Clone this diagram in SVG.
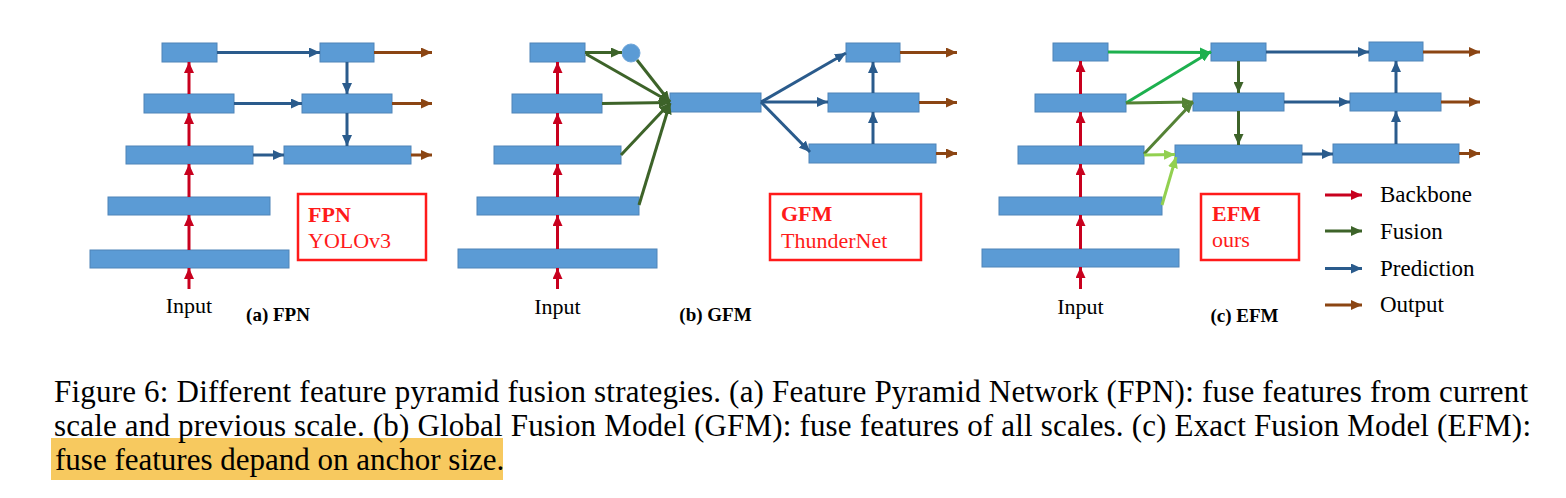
<svg xmlns="http://www.w3.org/2000/svg" width="1566" height="498" viewBox="0 0 1566 498">
<style>
.box{fill:#5B9BD5;stroke:#4F84B8;stroke-width:1}
.c{fill:none;stroke-width:3}
.red{stroke:#C8001E}
.grn{stroke:#3D6329}
.fg{stroke:#548235}
.bg{stroke:#1DB04E}
.lg{stroke:#92D050}
.blu{stroke:#2A5B8C}
.brn{stroke:#8B4513}
.lab{font-family:"Liberation Serif","Times New Roman",serif;font-size:22px;fill:#000}
.leg{font-family:"Liberation Serif","Times New Roman",serif;font-size:23px;fill:#000}
.sub{font-family:"Liberation Serif","Times New Roman",serif;font-size:19px;font-weight:bold;fill:#000}
.rb{fill:none;stroke:#FF1A1A;stroke-width:2.5}
.rt{font-family:"Liberation Serif","Times New Roman",serif;font-size:22px;fill:#FF1A1A}
.cap{font-family:"Liberation Serif","Times New Roman",serif;font-size:31px;fill:#000}
</style>
<defs>
<marker id="mr" markerUnits="userSpaceOnUse" markerWidth="11" markerHeight="10" refX="11" refY="5" orient="auto"><path d="M0,0 L11,5 L0,10 z" fill="#C8001E"/></marker>
<marker id="mg" markerUnits="userSpaceOnUse" markerWidth="11" markerHeight="10" refX="11" refY="5" orient="auto"><path d="M0,0 L11,5 L0,10 z" fill="#3D6329"/></marker>
<marker id="mfg" markerUnits="userSpaceOnUse" markerWidth="11" markerHeight="10" refX="11" refY="5" orient="auto"><path d="M0,0 L11,5 L0,10 z" fill="#548235"/></marker>
<marker id="mbg" markerUnits="userSpaceOnUse" markerWidth="11" markerHeight="10" refX="11" refY="5" orient="auto"><path d="M0,0 L11,5 L0,10 z" fill="#1DB04E"/></marker>
<marker id="mlg" markerUnits="userSpaceOnUse" markerWidth="11" markerHeight="10" refX="11" refY="5" orient="auto"><path d="M0,0 L11,5 L0,10 z" fill="#92D050"/></marker>
<marker id="mb" markerUnits="userSpaceOnUse" markerWidth="11" markerHeight="10" refX="11" refY="5" orient="auto"><path d="M0,0 L11,5 L0,10 z" fill="#2A5B8C"/></marker>
<marker id="mo" markerUnits="userSpaceOnUse" markerWidth="11" markerHeight="10" refX="11" refY="5" orient="auto"><path d="M0,0 L11,5 L0,10 z" fill="#8B4513"/></marker>
</defs>
<rect width="1566" height="498" fill="#FFFFFF"/>

<!-- FPN -->
<g id="fpn-l1"><rect class="box" x="162" y="43" width="55" height="19"/></g>
<g id="fpn-l2"><rect class="box" x="144" y="94" width="90" height="19"/></g>
<g id="fpn-l3"><rect class="box" x="126" y="146" width="127" height="18"/></g>
<g id="fpn-l4"><rect class="box" x="108" y="197" width="162" height="18"/></g>
<g id="fpn-l5"><rect class="box" x="90" y="250" width="199" height="18"/></g>
<g id="fpn-p1"><rect class="box" x="320" y="43" width="54" height="19"/></g>
<g id="fpn-p2"><rect class="box" x="302" y="94" width="90" height="19"/></g>
<g id="fpn-p3"><rect class="box" x="284" y="146" width="127" height="18"/></g>
<g id="fpn-tag"><rect class="rb" x="298" y="194" width="128" height="66"/>
<text class="rt" x="308" y="222" font-weight="bold">FPN</text><text class="rt" x="308" y="248">YOLOv3</text></g>
<g id="fpn-input"><text class="lab" x="189" y="313" text-anchor="middle">Input</text></g>
<g id="fpn-title"><text class="sub" x="278" y="321" text-anchor="middle">(a) FPN</text></g>

<!-- GFM -->
<g id="gfm-l1"><rect class="box" x="530" y="43" width="55" height="19"/></g>
<g id="gfm-l2"><rect class="box" x="512" y="94" width="90" height="19"/></g>
<g id="gfm-l3"><rect class="box" x="494" y="146" width="127" height="18"/></g>
<g id="gfm-l4"><rect class="box" x="477" y="197" width="162" height="18"/></g>
<g id="gfm-l5"><rect class="box" x="458" y="249" width="199" height="19"/></g>
<g id="gfm-pool"><circle cx="631" cy="53" r="9" fill="#5B9BD5" stroke="#6FA6DA" stroke-width="1"/></g>
<g id="gfm-fuse"><rect class="box" x="670" y="93" width="91" height="19"/></g>
<g id="gfm-p1"><rect class="box" x="846" y="43" width="54" height="19"/></g>
<g id="gfm-p2"><rect class="box" x="828" y="93" width="91" height="19"/></g>
<g id="gfm-p3"><rect class="box" x="809" y="144" width="127" height="19"/></g>
<g id="gfm-tag"><rect class="rb" x="770" y="194" width="151" height="66"/>
<text class="rt" x="781" y="221" font-weight="bold">GFM</text><text class="rt" x="781" y="248">ThunderNet</text></g>
<g id="gfm-input"><text class="lab" x="557.5" y="314" text-anchor="middle">Input</text></g>
<g id="gfm-title"><text class="sub" x="715.5" y="321" text-anchor="middle">(b) GFM</text></g>

<!-- EFM -->
<g id="efm-l1"><rect class="box" x="1053" y="43" width="55" height="18"/></g>
<g id="efm-l2"><rect class="box" x="1035" y="94" width="91" height="18"/></g>
<g id="efm-l3"><rect class="box" x="1018" y="146" width="126" height="18"/></g>
<g id="efm-l4"><rect class="box" x="999" y="197" width="163" height="18"/></g>
<g id="efm-l5"><rect class="box" x="982" y="249" width="197" height="18"/></g>
<g id="efm-m1"><rect class="box" x="1211" y="43" width="55" height="18"/></g>
<g id="efm-m2"><rect class="box" x="1193" y="93" width="91" height="18"/></g>
<g id="efm-m3"><rect class="box" x="1175" y="145" width="127" height="18"/></g>
<g id="efm-p1"><rect class="box" x="1369" y="42" width="54" height="19"/></g>
<g id="efm-p2"><rect class="box" x="1350" y="93" width="91" height="18"/></g>
<g id="efm-p3"><rect class="box" x="1333" y="144" width="126" height="19"/></g>
<g id="efm-tag"><rect class="rb" x="1201" y="194" width="98" height="66"/>
<text class="rt" x="1212" y="221" font-weight="bold">EFM</text><text class="rt" x="1212" y="247">ours</text></g>
<g id="efm-input"><text class="lab" x="1080.5" y="314" text-anchor="middle">Input</text></g>
<g id="efm-title"><text class="sub" x="1244.5" y="322" text-anchor="middle">(c) EFM</text></g>

<!-- legend -->
<g id="legend">
<line class="c red" x1="1325" y1="195" x2="1362" y2="195" marker-end="url(#mr)"/>
<line class="c grn" x1="1325" y1="231" x2="1362" y2="231" marker-end="url(#mg)"/>
<line class="c blu" x1="1325" y1="268.5" x2="1362" y2="268.5" marker-end="url(#mb)"/>
<line class="c brn" x1="1325" y1="305" x2="1362" y2="305" marker-end="url(#mo)"/>
<text class="leg" x="1380" y="202">Backbone</text>
<text class="leg" x="1380" y="238.5">Fusion</text>
<text class="leg" x="1380" y="276">Prediction</text>
<text class="leg" x="1380" y="311.5">Output</text>
</g>

<g id="connectors">
<!-- FPN backbone -->
<line class="c red" x1="189" y1="289" x2="189" y2="268" marker-end="url(#mr)"/>
<line class="c red" x1="189" y1="250" x2="189" y2="215" marker-end="url(#mr)"/>
<line class="c red" x1="189" y1="197" x2="189" y2="164" marker-end="url(#mr)"/>
<line class="c red" x1="189" y1="146" x2="189" y2="113" marker-end="url(#mr)"/>
<line class="c red" x1="189" y1="94" x2="189" y2="62" marker-end="url(#mr)"/>
<!-- FPN prediction -->
<line class="c blu" x1="217" y1="52.5" x2="320" y2="52.5" marker-end="url(#mb)"/>
<line class="c blu" x1="234" y1="103.5" x2="302" y2="103.5" marker-end="url(#mb)"/>
<line class="c blu" x1="253" y1="155" x2="284" y2="155" marker-end="url(#mb)"/>
<line class="c blu" x1="347" y1="62" x2="347" y2="94" marker-end="url(#mb)"/>
<line class="c blu" x1="347" y1="113" x2="347" y2="146" marker-end="url(#mb)"/>
<line class="c brn" x1="374" y1="52.5" x2="432" y2="52.5" marker-end="url(#mo)"/>
<line class="c brn" x1="392" y1="103.5" x2="432" y2="103.5" marker-end="url(#mo)"/>
<line class="c brn" x1="411" y1="155" x2="432" y2="155" marker-end="url(#mo)"/>

<!-- GFM backbone -->
<line class="c red" x1="557.5" y1="289" x2="557.5" y2="268" marker-end="url(#mr)"/>
<line class="c red" x1="557.5" y1="249" x2="557.5" y2="215" marker-end="url(#mr)"/>
<line class="c red" x1="557.5" y1="197" x2="557.5" y2="164" marker-end="url(#mr)"/>
<line class="c red" x1="557.5" y1="146" x2="557.5" y2="113" marker-end="url(#mr)"/>
<line class="c red" x1="557.5" y1="94" x2="557.5" y2="62" marker-end="url(#mr)"/>
<!-- GFM fusion -->
<line class="c grn" x1="585" y1="52.5" x2="622" y2="52.5" marker-end="url(#mg)"/>
<line class="c grn" x1="586" y1="54" x2="670" y2="102" marker-end="url(#mg)"/>
<line class="c grn" x1="637" y1="60" x2="670" y2="102" marker-end="url(#mg)"/>
<line class="c grn" x1="602" y1="103.5" x2="670" y2="102.5" marker-end="url(#mg)"/>
<line class="c grn" x1="621" y1="155" x2="670" y2="103" marker-end="url(#mg)"/>
<line class="c grn" x1="639" y1="205" x2="670" y2="103" marker-end="url(#mg)"/>
<!-- GFM prediction -->
<line class="c blu" x1="761" y1="102" x2="846" y2="53" marker-end="url(#mb)"/>
<line class="c blu" x1="761" y1="102" x2="828" y2="102" marker-end="url(#mb)"/>
<line class="c blu" x1="761" y1="102" x2="810" y2="152" marker-end="url(#mb)"/>
<line class="c blu" x1="873" y1="144" x2="873" y2="112" marker-end="url(#mb)"/>
<line class="c blu" x1="873" y1="93" x2="873" y2="62" marker-end="url(#mb)"/>
<line class="c brn" x1="900" y1="52.5" x2="957" y2="52.5" marker-end="url(#mo)"/>
<line class="c brn" x1="919" y1="102.5" x2="957" y2="102.5" marker-end="url(#mo)"/>
<line class="c brn" x1="936" y1="153.5" x2="957" y2="153.5" marker-end="url(#mo)"/>

<!-- EFM backbone -->
<line class="c red" x1="1080.5" y1="289" x2="1080.5" y2="267" marker-end="url(#mr)"/>
<line class="c red" x1="1080.5" y1="249" x2="1080.5" y2="215" marker-end="url(#mr)"/>
<line class="c red" x1="1080.5" y1="197" x2="1080.5" y2="164" marker-end="url(#mr)"/>
<line class="c red" x1="1080.5" y1="146" x2="1080.5" y2="112" marker-end="url(#mr)"/>
<line class="c red" x1="1080.5" y1="94" x2="1080.5" y2="61" marker-end="url(#mr)"/>
<!-- EFM fusion -->
<line class="c bg" x1="1108" y1="52" x2="1211" y2="52.5" marker-end="url(#mbg)"/>
<line class="c bg" x1="1126" y1="103" x2="1211" y2="51.5" marker-end="url(#mbg)"/>
<line class="c fg" x1="1126" y1="103" x2="1193" y2="102" marker-end="url(#mfg)"/>
<line class="c fg" x1="1144" y1="154" x2="1193" y2="102" marker-end="url(#mfg)"/>
<line class="c lg" x1="1144" y1="155" x2="1175" y2="154.5" marker-end="url(#mlg)"/>
<line class="c lg" x1="1162" y1="205" x2="1176" y2="157" marker-end="url(#mlg)"/>
<line class="c grn" x1="1238.5" y1="61" x2="1238.5" y2="93" marker-end="url(#mg)"/>
<line class="c grn" x1="1238.5" y1="111" x2="1238.5" y2="145" marker-end="url(#mg)"/>
<!-- EFM prediction -->
<line class="c blu" x1="1266" y1="52" x2="1369" y2="52" marker-end="url(#mb)"/>
<line class="c blu" x1="1284" y1="102" x2="1350" y2="102" marker-end="url(#mb)"/>
<line class="c blu" x1="1302" y1="154" x2="1333" y2="154" marker-end="url(#mb)"/>
<line class="c blu" x1="1396" y1="144" x2="1396" y2="111" marker-end="url(#mb)"/>
<line class="c blu" x1="1396" y1="93" x2="1396" y2="61" marker-end="url(#mb)"/>
<line class="c brn" x1="1423" y1="52" x2="1480" y2="52" marker-end="url(#mo)"/>
<line class="c brn" x1="1441" y1="102" x2="1480" y2="102" marker-end="url(#mo)"/>
<line class="c brn" x1="1459" y1="153.5" x2="1480" y2="153.5" marker-end="url(#mo)"/>
</g>

<!-- caption -->
<rect x="51" y="438" width="452" height="42" fill="#F7C95F"/>
<text class="cap" x="54" y="402" textLength="1474" lengthAdjust="spacing">Figure 6: Different feature pyramid fusion strategies. (a) Feature Pyramid Network (FPN): fuse features from current</text>
<text class="cap" x="54" y="436" textLength="1477" lengthAdjust="spacing">scale and previous scale. (b) Global Fusion Model (GFM): fuse features of all scales. (c) Exact Fusion Model (EFM):</text>
<text class="cap" x="55" y="470">fuse features depand on anchor size.</text>
</svg>
